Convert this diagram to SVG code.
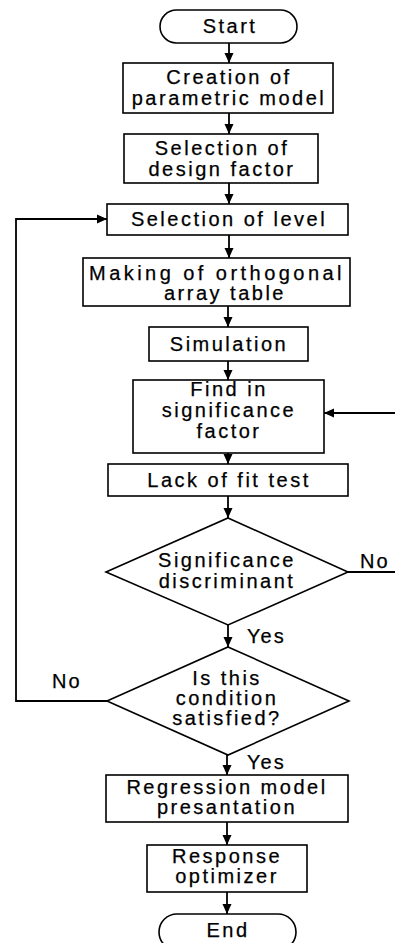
<svg xmlns="http://www.w3.org/2000/svg" width="395" height="943" viewBox="0 0 395 943">
<defs>
<marker id="ah" markerWidth="11" markerHeight="11" refX="10" refY="5.5" orient="auto" markerUnits="userSpaceOnUse">
<path d="M0,1 L10,5.5 L0,10 Z" fill="#000"/>
</marker>
<style>
.n{fill:#fff;stroke:#000;stroke-width:1.6}
.t{font-family:"Liberation Sans",Arial,sans-serif;font-size:20px;letter-spacing:2.5px;fill:#000;stroke:#000;stroke-width:0.25;text-anchor:middle}
.c{fill:none;stroke:#000;stroke-width:1.8}
.c.a{marker-end:url(#ah)}
.l{font-family:"Liberation Sans",Arial,sans-serif;font-size:20px;letter-spacing:2px;fill:#000;stroke:#000;stroke-width:0.25}
</style>
</defs>
<rect width="395" height="943" fill="#fff"/>
<g id="connectors">
<line class="c a" x1="229" y1="43" x2="229" y2="63"/>
<line class="c a" x1="229" y1="113" x2="229" y2="134"/>
<line class="c a" x1="229" y1="183" x2="229" y2="204"/>
<line class="c a" x1="229" y1="235" x2="229" y2="258"/>
<line class="c a" x1="228" y1="306" x2="228" y2="327"/>
<line class="c a" x1="228" y1="361" x2="228" y2="380"/>
<line class="c a" x1="228" y1="453" x2="228" y2="464"/>
<line class="c a" x1="228" y1="496" x2="228" y2="518"/>
<line class="c a" x1="228" y1="625" x2="228" y2="647"/>
<line class="c a" x1="227" y1="755" x2="227" y2="775"/>
<line class="c a" x1="227" y1="822" x2="227" y2="845"/>
<line class="c a" x1="227" y1="892" x2="227" y2="914"/>
<polyline class="c a" points="107,701 16,701 16,219 107,219"/>
<line class="c" x1="348" y1="572" x2="395" y2="572"/>
<line class="c a" x1="395" y1="413" x2="324" y2="413"/>
<text class="l" x="360" y="568">No</text>
<text class="l" x="247" y="643">Yes</text>
<text class="l" x="52" y="688">No</text>
<text class="l" x="247" y="769">Yes</text>
</g>
<g id="start">
<rect class="n" x="160" y="10" width="137" height="33" rx="16.5"/>
<text class="t" x="230" y="33">Start</text>
</g>
<g id="creation">
<rect class="n" x="123" y="63" width="210" height="50"/>
<text class="t" x="229" y="84">Creation of</text>
<text class="t" x="229" y="105">parametric model</text>
</g>
<g id="design-factor">
<rect class="n" x="124" y="134" width="194" height="49"/>
<text class="t" x="222" y="155">Selection of</text>
<text class="t" x="222" y="176">design factor</text>
</g>
<g id="level">
<rect class="n" x="107" y="204" width="241" height="31"/>
<text class="t" x="229" y="226">Selection of level</text>
</g>
<g id="orthogonal">
<rect class="n" x="83" y="258" width="267" height="48"/>
<text class="t" x="216.5" y="280" textLength="255" lengthAdjust="spacing">Making of orthogonal</text>
<text class="t" x="225" y="300">array table</text>
</g>
<g id="simulation">
<rect class="n" x="149" y="327" width="159" height="34"/>
<text class="t" x="229" y="351">Simulation</text>
</g>
<g id="significance-factor">
<rect class="n" x="133" y="380" width="191" height="73"/>
<text class="t" x="229" y="396">Find in</text>
<text class="t" x="229" y="417">significance</text>
<text class="t" x="229" y="438">factor</text>
</g>
<g id="lack-of-fit">
<rect class="n" x="108" y="464" width="240" height="32"/>
<text class="t" x="229" y="487">Lack of fit test</text>
</g>
<g id="discriminant">
<polygon class="n" points="228,518 348,572 228,625 106,572"/>
<text class="t" x="227" y="567">Significance</text>
<text class="t" x="227" y="588">discriminant</text>
</g>
<g id="condition">
<polygon class="n" points="228,647 349,701 228,755 107,701"/>
<text class="t" x="227" y="685">Is this</text>
<text class="t" x="227" y="705">condition</text>
<text class="t" x="227" y="725">satisfied?</text>
</g>
<g id="regression">
<rect class="n" x="106" y="775" width="242" height="47"/>
<text class="t" x="227" y="794">Regression model</text>
<text class="t" x="227" y="814">presantation</text>
</g>
<g id="optimizer">
<rect class="n" x="147" y="845" width="160" height="47"/>
<text class="t" x="227" y="863">Response</text>
<text class="t" x="227" y="883">optimizer</text>
</g>
<g id="end">
<rect class="n" x="159" y="914" width="137" height="36" rx="18"/>
<text class="t" x="228" y="937">End</text>
</g>
</svg>
